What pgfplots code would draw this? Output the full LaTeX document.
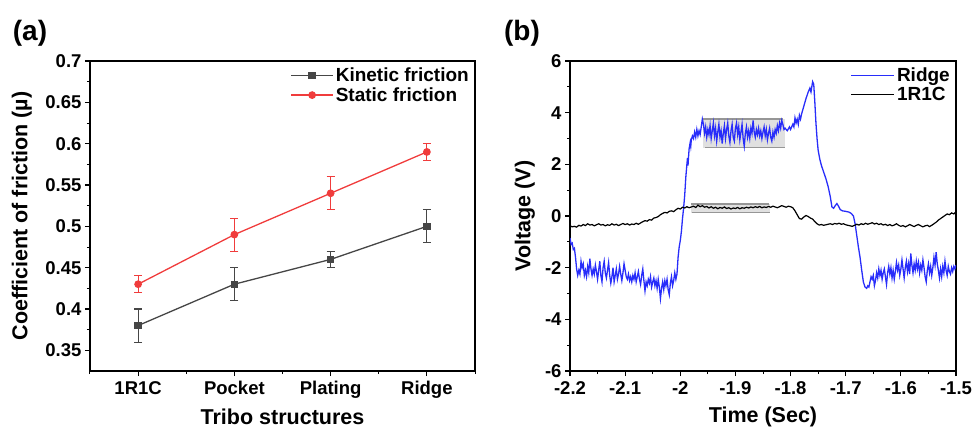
\documentclass[border=0pt]{standalone}
\usepackage{pgfplots}
\pgfplotsset{compat=1.18}
\usepackage{fontspec}
\setmainfont{Liberation Sans}
\definecolor{kin}{RGB}{70,70,70}
\definecolor{sta}{RGB}{240,60,60}
\definecolor{rdg}{RGB}{40,45,250}
\definecolor{boxfill}{RGB}{224,224,224}
\definecolor{boxline}{RGB}{150,150,150}
\pgfplotsset{
  common/.style={
    scale only axis,
    axis line style={line width=1.2pt},
    tick align=outside,
    tick pos=left,
    major tick length=5pt,
    minor tick length=3pt,
    every tick/.style={line width=1.1pt,black},
    every minor tick/.style={line width=1.0pt,black},
    /pgf/number format/assume math mode=true,
    tick label style={font=\fontsize{18.5}{22}\selectfont\bfseries},
    xticklabel style={yshift=-2pt},
    label style={font=\fontsize{21.5}{25}\selectfont\bfseries},
    legend style={draw=none, fill=none, font=\fontsize{19}{22}\selectfont\bfseries,
      legend cell align=left, row sep=0pt},
    legend cell align=left,
  }
}
\begin{document}
\begin{tikzpicture}
\path[use as bounding box] (0,0) rectangle (974pt,429pt);
\node[font=\fontsize{28}{32}\selectfont\bfseries] at (30pt,396pt) {(a)};
\node[font=\fontsize{28}{32}\selectfont\bfseries] at (522pt,396pt) {(b)};
% ---------- panel (a)
\begin{axis}[common,
  at={(90pt,58pt)}, anchor=south west,
  width=385pt, height=310pt,
  xmin=-0.5, xmax=3.5, ymin=0.325, ymax=0.7,
  xtick={0,1,2,3}, xticklabels={1R1C,Pocket,Plating,Ridge},
  minor xtick={-0.5,0.5,1.5,2.5,3.5},
  ytick={0.35,0.4,0.45,0.5,0.55,0.6,0.65,0.7},
  minor y tick num=1,
  yticklabel style={/pgf/number format/fixed,/pgf/number format/precision=2},
  xlabel={Tribo structures},
  ylabel={Coefficient of friction (\textmu)},
  xlabel style={at={(axis description cs:0.5,-0.148)}, anchor=center},
  ylabel style={at={(axis description cs:-0.177,0.5)}, anchor=center},
  legend style={at={(axis description cs:1,1)}, anchor=north east, xshift=-1pt, yshift=-3pt},
  legend image code/.code={\draw[mark repeat=2,mark phase=2,#1] plot coordinates {(0pt,0pt) (21pt,0pt) (42pt,0pt)};},
]
\addplot[kin, line width=1.3pt, mark=square*, mark size=3pt,
  error bars/.cd, y dir=both, y explicit,
  error bar style={line width=1.1pt}, error mark options={rotate=90, mark size=4pt, line width=1.1pt}]
  coordinates {(0,0.38) +- (0,0.02) (1,0.43) +- (0,0.02) (2,0.46) +- (0,0.01) (3,0.50) +- (0,0.02)};
\addlegendentry{Kinetic friction}
\addplot[sta, line width=1.3pt, mark=*, mark size=3.2pt,
  error bars/.cd, y dir=both, y explicit,
  error bar style={line width=1.1pt}, error mark options={rotate=90, mark size=4pt, line width=1.1pt}]
  coordinates {(0,0.43) +- (0,0.01) (1,0.49) +- (0,0.02) (2,0.54) +- (0,0.02) (3,0.59) +- (0,0.01)};
\addlegendentry{Static friction}
\end{axis}
% ---------- panel (b)
\begin{axis}[common,
  at={(570pt,58pt)}, anchor=south west,
  width=386pt, height=310pt,
  xmin=-2.2, xmax=-1.5, ymin=-6, ymax=6,
  xtick={-2.2,-2.1,-2,-1.9,-1.8,-1.7,-1.6,-1.5},
  minor x tick num=1,
  ytick={-6,-4,-2,0,2,4,6},
  minor y tick num=1,
  xticklabel style={/pgf/number format/fixed,/pgf/number format/precision=1},
  xlabel={Time (Sec)},
  ylabel={Voltage (V)},
  xlabel style={at={(axis description cs:0.5,-0.148)}, anchor=center},
  ylabel style={at={(axis description cs:-0.117,0.5)}, anchor=center},
  legend style={at={(axis description cs:1,1)}, anchor=north east, xshift=-1pt, yshift=-3pt},
  legend image code/.code={\draw[#1] (0pt,0pt) -- (43pt,0pt);},
]
\addplot[fill=boxfill, draw=none, forget plot] coordinates {(-1.958,2.64) (-1.811,2.64) (-1.811,3.75) (-1.958,3.75)} -- cycle;
\addplot[boxline, line width=1.3pt, forget plot] coordinates {(-1.958,3.75) (-1.813,3.75)};
\addplot[boxline, line width=1.3pt, forget plot] coordinates {(-1.955,2.64) (-1.811,2.64)};
\addplot[fill=boxfill, draw=none, forget plot] coordinates {(-1.981,0.13) (-1.837,0.13) (-1.837,0.46) (-1.981,0.46)} -- cycle;
\addplot[boxline, line width=1.3pt, forget plot] coordinates {(-1.981,0.46) (-1.839,0.46)};
\addplot[boxline, line width=1.3pt, forget plot] coordinates {(-1.978,0.13) (-1.837,0.13)};
\addplot[rdg, line width=1.3pt] table {
-2.200 -0.85
-2.198 -1.10
-2.196 -1.05
-2.194 -1.30
-2.192 -1.25
-2.190 -1.60
-2.188 -2.05
-2.186 -2.30
-2.184 -2.10
-2.182 -2.25
-2.180 -1.75
-2.178 -2.00
-2.176 -1.85
-2.174 -2.30
-2.172 -2.10
-2.170 -2.35
-2.168 -1.95
-2.166 -2.20
-2.164 -1.65
-2.162 -2.05
-2.160 -2.30
-2.158 -2.05
-2.156 -2.25
-2.154 -1.90
-2.152 -2.15
-2.150 -2.45
-2.148 -2.10
-2.146 -1.75
-2.144 -2.30
-2.142 -2.55
-2.140 -2.00
-2.138 -1.75
-2.136 -2.20
-2.134 -2.40
-2.132 -2.10
-2.130 -1.80
-2.128 -2.30
-2.126 -2.60
-2.124 -2.35
-2.122 -2.00
-2.120 -2.55
-2.118 -2.30
-2.116 -2.05
-2.114 -2.45
-2.112 -2.25
-2.110 -1.95
-2.108 -2.25
-2.106 -2.50
-2.104 -2.20
-2.102 -1.85
-2.100 -2.10
-2.098 -2.35
-2.096 -2.45
-2.094 -2.25
-2.092 -2.50
-2.090 -2.35
-2.088 -2.55
-2.086 -2.30
-2.084 -2.45
-2.082 -2.20
-2.080 -2.55
-2.078 -2.35
-2.076 -2.15
-2.074 -2.45
-2.072 -2.65
-2.070 -2.30
-2.068 -2.05
-2.066 -2.50
-2.064 -2.90
-2.062 -2.55
-2.060 -2.70
-2.058 -2.45
-2.056 -2.60
-2.054 -2.35
-2.052 -2.75
-2.050 -2.55
-2.048 -2.40
-2.046 -2.70
-2.044 -2.50
-2.042 -2.80
-2.040 -2.45
-2.038 -2.75
-2.036 -3.20
-2.034 -2.80
-2.032 -2.55
-2.030 -2.85
-2.028 -2.50
-2.026 -2.70
-2.024 -2.45
-2.022 -2.85
-2.020 -3.05
-2.018 -2.60
-2.016 -2.35
-2.014 -2.70
-2.012 -2.50
-2.010 -2.20
-2.008 -2.45
-2.006 -2.25
-2.004 -1.60
-2.002 -1.20
-2.000 -0.95
-1.998 -0.60
-1.996 -0.10
-1.994 0.30
-1.992 0.80
-1.990 1.50
-1.988 2.00
-1.987 2.25
-1.986 1.95
-1.985 2.30
-1.984 2.60
-1.982 2.85
-1.981 2.70
-1.980 2.95
-1.978 3.10
-1.976 3.00
-1.974 3.25
-1.972 3.05
-1.970 3.35
-1.968 3.10
-1.966 3.30
-1.964 3.15
-1.962 3.45
-1.960 3.75
-1.958 3.55
-1.956 3.20
-1.954 3.45
-1.952 3.05
-1.950 3.35
-1.948 3.15
-1.946 3.50
-1.944 3.00
-1.942 3.30
-1.940 3.60
-1.938 3.10
-1.936 3.40
-1.934 2.90
-1.932 3.25
-1.930 3.55
-1.928 3.05
-1.926 3.30
-1.924 2.80
-1.922 3.20
-1.920 3.50
-1.918 3.00
-1.916 3.35
-1.914 3.60
-1.912 3.10
-1.910 2.85
-1.908 3.30
-1.906 3.55
-1.904 3.05
-1.902 2.90
-1.900 3.40
-1.898 3.60
-1.896 3.15
-1.894 3.45
-1.892 2.95
-1.890 3.25
-1.888 3.55
-1.886 3.00
-1.884 2.70
-1.882 3.20
-1.880 3.45
-1.878 3.05
-1.876 3.30
-1.874 3.00
-1.872 3.40
-1.870 3.20
-1.868 3.70
-1.866 3.25
-1.864 3.05
-1.862 3.35
-1.860 3.15
-1.858 3.40
-1.856 3.10
-1.854 3.30
-1.852 3.00
-1.850 3.25
-1.848 3.45
-1.846 3.10
-1.844 3.35
-1.842 2.95
-1.840 3.20
-1.838 3.40
-1.836 3.05
-1.834 2.90
-1.832 3.25
-1.830 3.05
-1.828 3.35
-1.826 3.20
-1.824 3.50
-1.822 3.30
-1.820 3.60
-1.818 3.40
-1.816 3.70
-1.814 3.55
-1.812 3.35
-1.810 3.40
-1.806 3.30
-1.802 3.45
-1.800 3.35
-1.796 3.55
-1.794 3.45
-1.792 3.80
-1.790 3.60
-1.788 3.75
-1.786 3.55
-1.784 3.90
-1.782 3.75
-1.780 3.95
-1.776 4.25
-1.772 4.55
-1.768 4.80
-1.765 4.95
-1.763 4.80
-1.760 5.20
-1.758 5.10
-1.756 4.40
-1.754 3.60
-1.752 3.00
-1.750 2.55
-1.747 2.20
-1.744 1.95
-1.740 1.70
-1.736 1.45
-1.732 1.15
-1.728 0.75
-1.725 0.35
-1.722 0.30
-1.719 0.40
-1.716 0.48
-1.713 0.38
-1.710 0.25
-1.706 0.20
-1.700 0.18
-1.694 0.15
-1.690 0.10
-1.686 0.00
-1.683 -0.30
-1.680 -0.75
-1.677 -1.20
-1.674 -1.60
-1.671 -2.10
-1.668 -2.55
-1.665 -2.75
-1.662 -2.80
-1.660 -2.70
-1.658 -2.75
-1.656 -2.55
-1.654 -2.35
-1.652 -2.45
-1.650 -2.30
-1.648 -2.70
-1.646 -2.50
-1.644 -2.20
-1.642 -2.40
-1.640 -2.05
-1.638 -2.30
-1.636 -2.10
-1.634 -2.45
-1.632 -2.20
-1.630 -2.05
-1.628 -2.35
-1.626 -2.65
-1.624 -2.20
-1.622 -1.95
-1.620 -2.25
-1.618 -2.00
-1.616 -2.40
-1.614 -2.10
-1.612 -2.45
-1.610 -2.15
-1.608 -1.80
-1.606 -2.10
-1.604 -1.90
-1.602 -2.30
-1.600 -2.05
-1.598 -1.70
-1.596 -2.05
-1.594 -2.40
-1.592 -2.00
-1.590 -1.75
-1.588 -2.15
-1.586 -1.85
-1.584 -2.25
-1.582 -1.45
-1.580 -1.90
-1.578 -2.20
-1.576 -1.85
-1.574 -2.10
-1.572 -1.75
-1.570 -2.05
-1.568 -1.80
-1.566 -2.20
-1.564 -1.90
-1.562 -2.10
-1.560 -1.70
-1.558 -2.00
-1.556 -2.35
-1.554 -2.55
-1.552 -2.10
-1.550 -1.85
-1.548 -2.20
-1.546 -1.95
-1.544 -2.30
-1.542 -2.00
-1.540 -1.60
-1.538 -1.90
-1.536 -1.40
-1.534 -1.85
-1.532 -2.10
-1.530 -2.40
-1.528 -2.05
-1.526 -2.35
-1.524 -1.95
-1.522 -2.20
-1.520 -1.75
-1.518 -2.10
-1.516 -2.30
-1.514 -1.95
-1.512 -2.15
-1.510 -2.25
-1.508 -2.00
-1.506 -2.15
-1.504 -1.95
-1.502 -2.05
-1.500 -1.90
};
\addlegendentry{Ridge}
\addplot[black, line width=1.2pt] table {
-2.200 -0.38
-2.196 -0.42
-2.192 -0.40
-2.188 -0.43
-2.184 -0.36
-2.180 -0.39
-2.176 -0.33
-2.172 -0.37
-2.168 -0.30
-2.164 -0.35
-2.160 -0.33
-2.156 -0.38
-2.152 -0.34
-2.148 -0.30
-2.144 -0.35
-2.140 -0.33
-2.136 -0.38
-2.132 -0.34
-2.128 -0.36
-2.124 -0.30
-2.120 -0.35
-2.116 -0.32
-2.112 -0.37
-2.108 -0.33
-2.104 -0.29
-2.100 -0.33
-2.096 -0.30
-2.092 -0.35
-2.088 -0.31
-2.084 -0.33
-2.080 -0.28
-2.076 -0.32
-2.072 -0.27
-2.068 -0.22
-2.064 -0.18
-2.060 -0.20
-2.056 -0.14
-2.052 -0.16
-2.048 -0.08
-2.044 -0.06
-2.040 -0.02
-2.036 0.05
-2.032 0.10
-2.028 0.14
-2.024 0.12
-2.020 0.18
-2.016 0.20
-2.012 0.17
-2.008 0.24
-2.004 0.30
-2.000 0.27
-1.996 0.34
-1.992 0.31
-1.988 0.36
-1.984 0.32
-1.980 0.35
-1.976 0.38
-1.972 0.33
-1.968 0.42
-1.964 0.36
-1.960 0.40
-1.956 0.34
-1.952 0.37
-1.948 0.31
-1.944 0.36
-1.940 0.30
-1.936 0.34
-1.932 0.28
-1.928 0.33
-1.924 0.30
-1.920 0.35
-1.916 0.29
-1.912 0.32
-1.908 0.27
-1.904 0.31
-1.900 0.29
-1.896 0.33
-1.892 0.28
-1.888 0.32
-1.884 0.30
-1.880 0.34
-1.876 0.31
-1.872 0.35
-1.868 0.32
-1.864 0.36
-1.860 0.33
-1.856 0.37
-1.852 0.32
-1.848 0.35
-1.844 0.33
-1.840 0.37
-1.836 0.34
-1.832 0.38
-1.828 0.35
-1.824 0.32
-1.820 0.36
-1.816 0.40
-1.812 0.37
-1.808 0.34
-1.804 0.38
-1.800 0.36
-1.796 0.32
-1.792 0.20
-1.788 0.05
-1.784 -0.10
-1.780 -0.12
-1.776 -0.04
-1.772 0.02
-1.768 -0.02
-1.764 -0.08
-1.760 -0.12
-1.756 -0.22
-1.752 -0.30
-1.748 -0.35
-1.744 -0.33
-1.740 -0.36
-1.736 -0.34
-1.732 -0.32
-1.728 -0.30
-1.724 -0.33
-1.720 -0.29
-1.716 -0.31
-1.712 -0.28
-1.708 -0.32
-1.704 -0.30
-1.700 -0.34
-1.696 -0.36
-1.692 -0.38
-1.688 -0.40
-1.684 -0.36
-1.680 -0.32
-1.676 -0.35
-1.672 -0.30
-1.668 -0.33
-1.664 -0.28
-1.660 -0.32
-1.656 -0.29
-1.652 -0.26
-1.648 -0.31
-1.644 -0.28
-1.640 -0.33
-1.636 -0.30
-1.632 -0.35
-1.628 -0.32
-1.624 -0.37
-1.620 -0.33
-1.616 -0.38
-1.612 -0.35
-1.608 -0.30
-1.604 -0.36
-1.600 -0.40
-1.596 -0.37
-1.592 -0.42
-1.588 -0.38
-1.584 -0.33
-1.580 -0.37
-1.576 -0.41
-1.572 -0.36
-1.568 -0.33
-1.564 -0.38
-1.560 -0.42
-1.556 -0.38
-1.552 -0.36
-1.548 -0.41
-1.544 -0.36
-1.540 -0.30
-1.536 -0.24
-1.532 -0.16
-1.528 -0.10
-1.524 -0.04
-1.520 0.02
-1.516 0.08
-1.512 0.05
-1.508 0.12
-1.504 0.08
-1.500 0.16
};
\addlegendentry{1R1C}
\end{axis}
\end{tikzpicture}
\end{document}
